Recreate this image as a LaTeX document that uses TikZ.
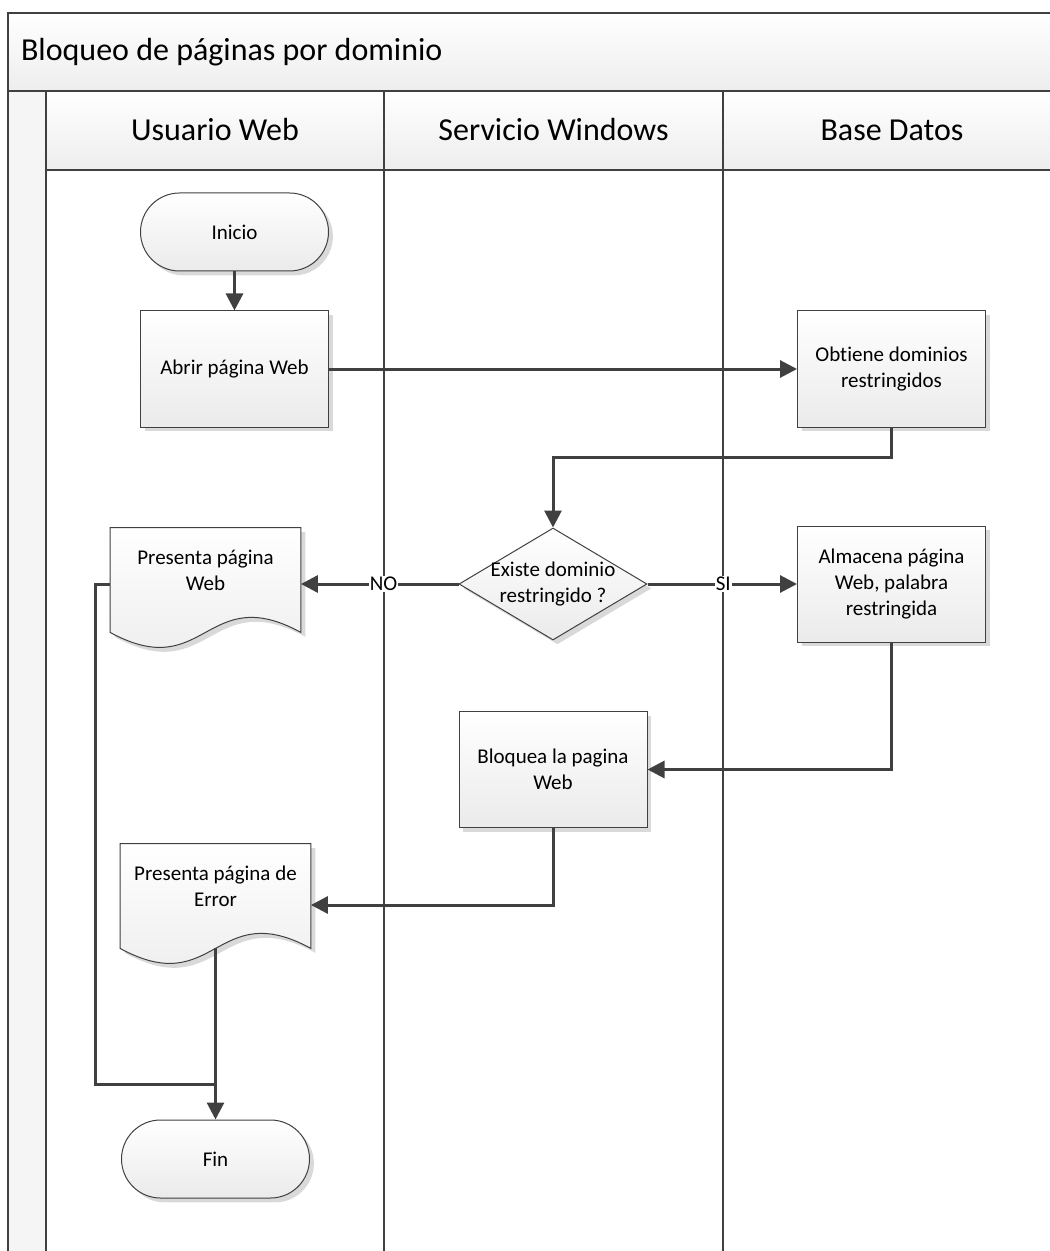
\documentclass[tikz,border=0pt]{standalone}
\usepackage{fontspec}
\setmainfont[RawFeature={-liga;-clig;-calt;-dlig}]{Carlito}
\usetikzlibrary{shapes.geometric,shadows,arrows.meta,backgrounds}

\definecolor{linegray}{HTML}{404040}

\tikzset{
  lane/.style={draw=linegray, line width=1pt},
  box/.style={draw=linegray, line width=0.5pt, top color=white, bottom color=black!8,
    drop shadow={shadow xshift=2.2pt, shadow yshift=-2.2pt, fill=black!15, opacity=1},
    font=\fontsize{10.5}{13}\selectfont, align=center},
  proc/.style={box, rectangle, minimum width=94pt, minimum height=58pt},
  term/.style={box, rectangle, rounded corners=19.5pt, minimum width=94pt, minimum height=39pt},
  decision/.style={box, diamond, minimum width=94pt, minimum height=56pt, inner sep=0pt},
  doctext/.style={minimum width=95pt, minimum height=42pt, inner sep=0pt,
    font=\fontsize{10.5}{13}\selectfont, align=center},
  headtext/.style={font=\fontsize{16}{19}\selectfont},
  flow/.style={draw=linegray, line width=1.5pt, -{Triangle[length=8.5pt,width=8.5pt]}},
  conn/.style={draw=linegray, line width=1.5pt},
  lbl/.style={fill=white, inner sep=0.5pt, font=\fontsize{10.5}{13}\selectfont},
}

\begin{document}
\begin{tikzpicture}[x=0.5pt, y=-0.5pt]
  \useasboundingbox (0,0) rectangle (1049,1251);

  % pool and lanes
  \draw[lane, top color=white, bottom color=black!7] (8,13) rectangle (1070,91);
  \draw[lane, fill=black!4] (8,91) rectangle (46,1260);
  \draw[lane, top color=white, bottom color=black!7] (46,91) rectangle (1070,170);
  \foreach \x in {384,723}
    \draw[lane] (\x,91) -- (\x,1260);

  \node[headtext, anchor=west] (pool) at (14,52) {Bloqueo de páginas por dominio};
  \node[headtext] (user) at (215,130) {Usuario Web};
  \node[headtext] (serv) at (553.5,130) {Servicio Windows};
  \node[headtext] (bd) at (892,130) {Base Datos};

  % steps
  \node[term] (ini) at (234.5,232) {Inicio};
  \node[proc] (abr) at (234.5,369) {Abrir página Web};
  \node[proc] (obt) at (891.5,369) {Obtiene dominios\\restringidos};
  \node[decision, label={[font=\fontsize{10.5}{13}\selectfont, align=center]center:Existe dominio\\restringido ?}] (dec) at (553,584) {};
  \node[doctext] (pweb) at (205.5,570) {Presenta página\\Web};
  \node[proc] (alm) at (891.5,584) {Almacena página\\Web, palabra\\restringida};
  \node[proc] (blq) at (553,769.5) {Bloquea la pagina\\Web};
  \node[doctext] (err) at (215.5,886) {Presenta página de\\Error};
  \node[term] (fin) at (215.5,1159) {Fin};

  % document outlines
  \begin{scope}[on background layer]
    \foreach \d in {pweb,err}
      \path[box] (\d.north west) -- (\d.north east) -- ([yshift=-10pt]\d.south east)
        .. controls +(-95.5,-52) and +(95.5,52) .. ([yshift=-10pt]\d.south west) -- cycle;
  \end{scope}

  % connectors
  \draw[flow] (ini) -- (abr);
  \draw[flow] (abr) -- (obt);
  \draw[flow] (obt.south) -- ++(0,30) -| (dec.north);
  \draw[flow] (dec.west) -- node[lbl, pos=.475] {NO} (dec.west -| pweb.east);
  \draw[flow] (dec.east) -- node[lbl, pos=.507] {SI} (dec.east -| alm.west);
  \draw[flow] (alm.south) |- (blq.east);
  \draw[flow] (blq.south) |- ([yshift=-9.5pt]err.east);
  \draw[conn] (pweb.west |- dec.west) -- ++(-15,0) |- ([yshift=17.5pt]fin.north);
  \draw[flow] ([yshift=-10pt]err.south) -- (fin);
\end{tikzpicture}
\end{document}
